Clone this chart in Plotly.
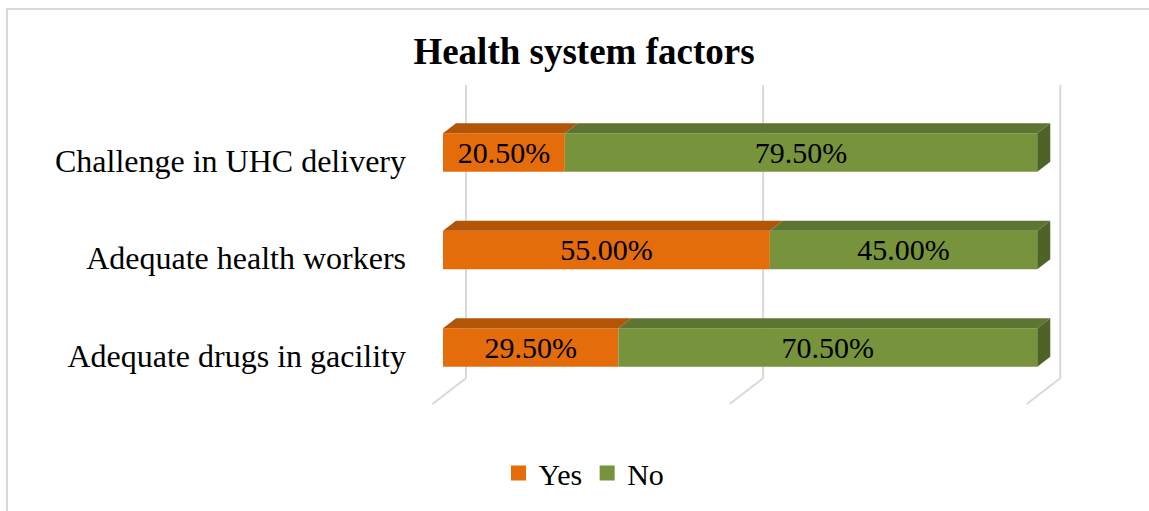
import plotly.graph_objects as go

# ---- data -------------------------------------------------------------
categories = ["Adequate drugs in gacility", "Adequate health workers", "Challenge in UHC delivery"]
yes_pct = [29.5, 55.0, 20.5]
no_pct = [70.5, 45.0, 79.5]
grid_ticks = [0, 50, 100]

# ---- style ------------------------------------------------------------
FONT = "Liberation Serif"
ORANGE, ORANGE_TOP = "#E46C0A", "#B25508"
GREEN, GREEN_TOP, GREEN_SIDE = "#77933C", "#5E7431", "#4F6228"
GRID = "#D9D9D9"

W, H = 1149, 511
L, R, T, B = 425, 76, 80, 101
XR = [-3.029, 106.01]
YR = [-0.559, 2.826]
PW, PH = W - L - R, H - T - B
px_x = PW / (XR[1] - XR[0])
px_y = PH / (YR[1] - YR[0])

# bar box geometry (converted from pixel sizes to axis units)
BAR_W = 38.4 / px_y
BAR_OFF = 8 / px_y - BAR_W / 2          # front face sits slightly above the category line
DX, DY = 13 / px_x, 10 / px_y           # depth of the bar boxes
WALL_DX = 23 / px_x                     # back wall offset
FLOOR_DX = -10.6 / px_x                 # front edge of the floor
FLOOR_BACK = -22.8 / px_y
FLOOR_FRONT = -48.5 / px_y
GRID_TOP = 2 + 75.5 / px_y
LABEL_DROP = 2.5 / px_y

ys = list(range(len(categories)))

fig = go.Figure()

# front faces
fig.add_trace(go.Bar(name="Yes", y=ys, x=yes_pct, orientation="h",
                     width=BAR_W, offset=BAR_OFF, legendgroup="yes", showlegend=False,
                     marker=dict(color=ORANGE, line=dict(width=0))))
fig.add_trace(go.Bar(name="No", y=ys, x=no_pct, base=yes_pct, orientation="h",
                     width=BAR_W, offset=BAR_OFF, legendgroup="no", showlegend=False,
                     marker=dict(color=GREEN, line=dict(width=0))))

# top faces and the right side face of each stacked box
for y, yv, nv in zip(ys, yes_pct, no_pct):
    yt = y + BAR_OFF + BAR_W
    yb = y + BAR_OFF
    for base, val, col, grp in ((0, yv, ORANGE_TOP, "yes"), (yv, nv, GREEN_TOP, "no")):
        fig.add_trace(go.Scatter(
            x=[base, base + DX, base + val + DX, base + val, base],
            y=[yt, yt + DY, yt + DY, yt, yt],
            mode="lines", fill="toself", fillcolor=col, legendgroup=grp,
            line=dict(width=0, color=col), hoverinfo="skip", showlegend=False))
    end = yv + nv
    fig.add_trace(go.Scatter(
        x=[end, end, end + DX, end + DX, end],
        y=[yb, yt, yt + DY, yb + DY, yb],
        mode="lines", fill="toself", fillcolor=GREEN_SIDE, legendgroup="no",
        line=dict(width=0, color=GREEN_SIDE), hoverinfo="skip", showlegend=False))

# value labels on the front faces
lab_x, lab_y, lab_t = [], [], []
for y, yv, nv in zip(ys, yes_pct, no_pct):
    yc = y + BAR_OFF + BAR_W / 2 - LABEL_DROP
    lab_x += [yv / 2, yv + nv / 2]
    lab_y += [yc, yc]
    lab_t += [f"{yv:.2f}%", f"{nv:.2f}%"]
fig.add_trace(go.Scatter(x=lab_x, y=lab_y, text=lab_t, mode="text",
                         textposition="middle center",
                         textfont=dict(family=FONT, size=30, color="#000000"),
                         hoverinfo="skip", showlegend=False, cliponaxis=False))

# legend keys (square swatches)
for name, col, grp in (("Yes", ORANGE, "yes"), ("No", GREEN, "no")):
    fig.add_trace(go.Scatter(x=[None], y=[None], mode="markers", name=name,
                             legendgroup=grp,
                             marker=dict(symbol="square", size=15, color=col)))

# gridlines on the back wall and floor
shapes = []
for g in grid_ticks:
    shapes.append(dict(type="line", xref="x", yref="y", layer="below",
                       x0=g + WALL_DX, x1=g + WALL_DX, y0=FLOOR_BACK, y1=GRID_TOP,
                       line=dict(color=GRID, width=2)))
    shapes.append(dict(type="line", xref="x", yref="y", layer="below",
                       x0=g + WALL_DX, x1=g + FLOOR_DX, y0=FLOOR_BACK, y1=FLOOR_FRONT,
                       line=dict(color=GRID, width=2)))

# chart area border
shapes.append(dict(type="rect", xref="paper", yref="paper", layer="below",
                   x0=(7 - L) / PW, x1=(W + 10 - L) / PW,
                   y0=(T + PH - (H + 10)) / PH, y1=(T + PH - 9) / PH,
                   line=dict(color=GRID, width=2), fillcolor="rgba(0,0,0,0)"))

fig.update_layout(
    width=W, height=H,
    margin=dict(l=L, r=R, t=T, b=B),
    paper_bgcolor="white", plot_bgcolor="white",
    barmode="overlay",
    font=dict(family=FONT, color="#000000"),
    title=dict(text="<b>Health system factors</b>", x=584 / W, xref="container",
               y=1 - 51 / H, yref="container", xanchor="center", yanchor="middle",
               font=dict(family=FONT, size=37, color="#000000")),
    xaxis=dict(range=XR, showgrid=False, zeroline=False, showticklabels=False,
               showline=False, ticks="", fixedrange=True),
    yaxis=dict(range=YR, tickmode="array", tickvals=ys, ticktext=categories,
               showgrid=False, zeroline=False, showline=False, ticks="",
               ticklabelstandoff=18,
               tickfont=dict(family=FONT, size=32, color="#000000")),
    legend=dict(orientation="h", x=(584 - L) / PW, xanchor="center",
                y=(T + PH - 473) / PH, yanchor="middle",
                font=dict(family=FONT, size=30, color="#000000"),
                bgcolor="rgba(0,0,0,0)", itemwidth=30),
    shapes=shapes,
)

fig.write_html("out.html")
